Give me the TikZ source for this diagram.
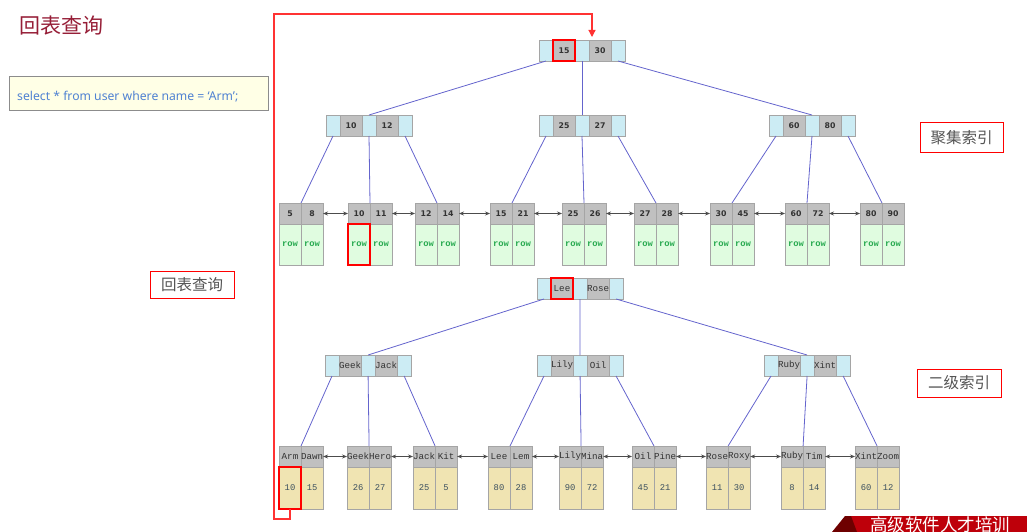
\documentclass[tikz,border=0pt]{standalone}
\usepackage{fontspec}
\usetikzlibrary{arrows.meta}
\newfontfamily\cjk{Noto Sans CJK SC}
\newfontfamily\monof{Liberation Mono}
\newfontfamily\keyf{DejaVu Sans}
\newfontfamily\sqlf{Noto Sans}
\definecolor{cyanbg}{RGB}{204,236,244}
\definecolor{graybg}{RGB}{192,192,192}
\definecolor{cellline}{RGB}{165,165,165}
\definecolor{rowbg}{RGB}{224,252,224}
\definecolor{rowtxt}{RGB}{40,170,80}
\definecolor{valbg}{RGB}{240,228,178}
\definecolor{valtxt}{RGB}{60,80,95}
\definecolor{linkc}{RGB}{100,100,205}
\definecolor{redl}{RGB}{255,50,50}
\definecolor{titlec}{RGB}{150,30,55}
\definecolor{sqlbg}{RGB}{255,255,230}
\definecolor{sqltxt}{RGB}{80,130,210}
\definecolor{labtxt}{RGB}{85,85,85}
\definecolor{bannerred}{RGB}{190,0,10}
\definecolor{bannerdark}{RGB}{110,0,0}
\newcommand\BTinner[5]{%
  \node[bcell,anchor=north west] (#1-b1) at (#2,#3) {};
  \node[gcell,anchor=west] (#1-k1) at (#1-b1.east) {#4};
  \node[bcell,anchor=west] (#1-b2) at (#1-k1.east) {};
  \node[gcell,anchor=west] (#1-k2) at (#1-b2.east) {#5};
  \node[bcell,anchor=west] (#1-b3) at (#1-k2.east) {};
}
\newcommand\BTleaf[8]{%
  \node[gcell,anchor=north west] (#1-k1) at (#2,#3) {#4};
  \node[gcell,anchor=west] (#1-k2) at (#1-k1.east) {#5};
  \node[#8,anchor=north] (#1-v1) at (#1-k1.south) {#6};
  \node[#8,anchor=north] (#1-v2) at (#1-k2.south) {#7};
}
\begin{document}
\begin{tikzpicture}[x=1pt,y=-1pt,
  cell/.style={draw=cellline,line width=0.8pt,inner sep=0pt,outer sep=0pt,minimum height=21pt},
  bcell/.style={cell,fill=cyanbg,minimum width=14pt},
  gcell/.style={cell,fill=graybg,minimum width=22pt,text=black!80},
  rowcell/.style={cell,fill=rowbg,minimum width=22pt,minimum height=41pt,text=rowtxt,font=\monof\bfseries\fontsize{8.8}{9}\selectfont},
  valcell/.style={cell,fill=valbg,minimum width=22pt,minimum height=42pt,text=valtxt,font=\monof\fontsize{8.8}{9}\selectfont},
  numkeys/.style={every node/.append style={font=\keyf\bfseries\fontsize{7.8}{8}\selectfont}},
  namekeys/.style={every node/.append style={font=\monof\fontsize{9.2}{10}\selectfont}},
  link/.style={draw=linkc,line width=0.8pt},
  leafarrow/.style={draw=black!70,line width=0.7pt,{Stealth[length=5pt,width=4pt]}-{Stealth[length=5pt,width=4pt]}},
  redbox/.style={draw=red,line width=1.2pt},
  labelbox/.style={draw=red,line width=1pt,fill=white,text=labtxt,font=\cjk\fontsize{15.5}{17}\selectfont,inner sep=0pt}
]
\useasboundingbox (0,0) rectangle (1027,532);
\clip (0,0) rectangle (1027,532);

% title and query
\node[anchor=west,text=titlec,font=\cjk\fontsize{21}{24}\selectfont,inner sep=0pt] (title) at (19,26) {回表查询};
\node[draw=black!45,fill=sqlbg,line width=0.8pt,anchor=north west,minimum width=259pt,minimum height=34pt,inner sep=0pt] (sqlbox) at (9,76) {};
\node[anchor=west,text=sqltxt,font=\sqlf\fontsize{12.2}{13}\selectfont,inner sep=0pt] (sql) at (17,97) {select * from user where name = ‘Arm’;};

% labels
\node[labelbox,minimum width=83pt,minimum height=29pt] (lab1) at (961.5,137.5) {聚集索引};
\node[labelbox,minimum width=84pt,minimum height=28pt] (lab2) at (959,383) {二级索引};
\node[labelbox,minimum width=84pt,minimum height=27pt] (lab3) at (192,284.5) {回表查询};

% clustered index
\begin{scope}[numkeys]
\BTinner{ct}{539}{40}{15}{30}
\BTinner{cl}{326}{115}{10}{12}
\BTinner{cm}{539}{115}{25}{27}
\BTinner{cr}{769}{115}{60}{80}
\BTleaf{c1}{279}{203}{5}{8}{row}{row}{rowcell}
\BTleaf{c2}{348}{203}{10}{11}{row}{row}{rowcell}
\BTleaf{c3}{415}{203}{12}{14}{row}{row}{rowcell}
\BTleaf{c4}{490}{203}{15}{21}{row}{row}{rowcell}
\BTleaf{c5}{562}{203}{25}{26}{row}{row}{rowcell}
\BTleaf{c6}{634}{203}{27}{28}{row}{row}{rowcell}
\BTleaf{c7}{710}{203}{30}{45}{row}{row}{rowcell}
\BTleaf{c8}{785}{203}{60}{72}{row}{row}{rowcell}
\BTleaf{c9}{860}{203}{80}{90}{row}{row}{rowcell}
\end{scope}

% secondary index
\begin{scope}[namekeys]
\BTinner{st}{537}{278}{Lee}{Rose}
\BTinner{sl}{325}{355}{Geek}{Jack}
\BTinner{sm}{537}{355}{Lily}{Oil}
\BTinner{sr}{764}{355}{Ruby}{Xint}
\BTleaf{s1}{279}{446}{Arm}{Dawn}{10}{15}{valcell}
\BTleaf{s2}{347}{446}{Geek}{Hero}{26}{27}{valcell}
\BTleaf{s3}{413}{446}{Jack}{Kit}{25}{5}{valcell}
\BTleaf{s4}{488}{446}{Lee}{Lem}{80}{28}{valcell}
\BTleaf{s5}{559}{446}{Lily}{Mina}{90}{72}{valcell}
\BTleaf{s6}{632}{446}{Oil}{Pine}{45}{21}{valcell}
\BTleaf{s7}{706}{446}{Rose}{Roxy}{11}{30}{valcell}
\BTleaf{s8}{781}{446}{Ruby}{Tim}{8}{14}{valcell}
\BTleaf{s9}{855}{446}{Xint}{Zoom}{60}{12}{valcell}
\end{scope}

% tree links
\foreach \t/\l/\m/\r in {ct/cl/cm/cr, st/sl/sm/sr}{
  \draw[link] (\t-b1.south) -- (\l-b2.north);
  \draw[link] (\t-b2.south) -- (\m-b2.north);
  \draw[link] (\t-b3.south) -- (\r-b2.north);
}
\foreach \p/\a/\b/\c in {cl/c1/c2/c3, cm/c4/c5/c6, cr/c7/c8/c9, sl/s1/s2/s3, sm/s4/s5/s6, sr/s7/s8/s9}{
  \draw[link] (\p-b1.south) -- (\a-k1.north east);
  \draw[link] (\p-b2.south) -- (\b-k1.north east);
  \draw[link] (\p-b3.south) -- (\c-k1.north east);
}
% leaf chains
\foreach \x [count=\i from 2] in {1,...,8}{
  \draw[leafarrow] (c\x-k2.east) -- (c\i-k1.west);
  \draw[leafarrow] (s\x-k2.east) -- (s\i-k1.west);
}

% highlighted cells
\draw[redbox] (ct-k1.south west) rectangle (ct-k1.north east);
\draw[redbox] (c2-v1.south west) rectangle (c2-v1.north east);
\draw[redbox] (st-k1.south west) rectangle (st-k1.north east);
\draw[redbox] (s1-v1.south west) rectangle (s1-v1.north east);

% back-to-table path
\coordinate (turn) at (274,14);
\draw[draw=redl,line width=1.2pt,-{Triangle[length=7pt,width=7pt]}]
  (s1-v1.south) -- ++(0,10) -| (turn) -| ([xshift=3pt,yshift=3pt]ct-k2.north west);

% banner
\fill[bannerred] (845,516) rectangle (1027,532);
\fill[bannerdark] (832,532) -- (845,516) -- (851,516) -- (857,532) -- cycle;
\node[anchor=west,text=white,font=\cjk\fontsize{17.5}{19}\selectfont,inner sep=0pt] (banner) at (870,525) {高级软件人才培训};
\end{tikzpicture}
\end{document}
